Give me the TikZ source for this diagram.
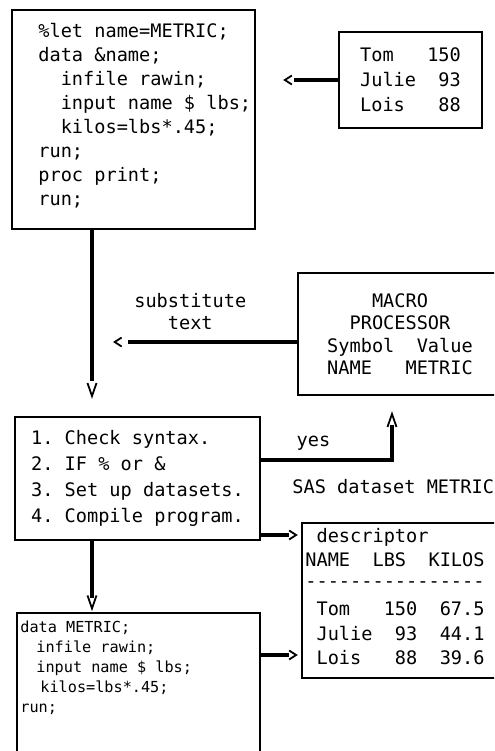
\documentclass[tikz,border=0pt]{standalone}
\usepackage{fontspec}
\setmonofont{DejaVu Sans Mono}
\usetikzlibrary{arrows.meta,decorations.markings}
\newcommand\sasind{\hphantom{xx}}
\tikzset{
  box/.style={draw, line width=1.2pt, rectangle, inner sep=0pt},
  sas/.style={font=\ttfamily\fontsize{9.3}{12}\selectfont, inner sep=0pt},
  link/.style={line width=1.9pt},
  htip/.style 2 args={shorten >=#1+3.5pt+#2,
    postaction={decorate, decoration={markings, mark=at position -#1 with
      {\arrow{Straight Barb[length=3.5pt,width=4.5pt,line width=0.9pt]}}}}},
  vtip/.style 2 args={shorten >=#1+6.5pt+#2,
    postaction={decorate, decoration={markings, mark=at position -#1 with
      {\arrow{Straight Barb[length=6.5pt,width=4.5pt,line width=0.9pt]}}}}},
}
\begin{document}
\begin{tikzpicture}[x=0.5pt,y=-0.5pt]
\useasboundingbox (0,0) rectangle (494,751);
\clip (0,0) rectangle (494,751);
\coordinate (spine) at (92,0);

\node[box, minimum width=121.5pt, minimum height=109.5pt] (prog) at (133.5,119.5) {};
\node[sas, anchor=west, align=left] (progtext) at (38,116) {\%let name=METRIC;\\data \&name;\\\sasind infile rawin;\\\sasind input name \$ lbs;\\\sasind kilos=lbs*.45;\\run;\\proc print;\\run;};

\node[box, sas, align=left, minimum width=71.5pt, minimum height=48pt, font=\ttfamily\fontsize{9.3}{12.5}\selectfont] (raw) at (410.5,80) {Tom~~~150\\Julie~~93\\Lois~~~88};

\node[box, sas, align=center, minimum width=102pt, minimum height=61pt, font=\ttfamily\fontsize{9.3}{11.25}\selectfont] (macro) at (400,334) {MACRO\\PROCESSOR\\Symbol~~Value\\NAME~~~METRIC};

\node[box, sas, align=left, minimum width=122.5pt, minimum height=61.5pt, font=\ttfamily\fontsize{9.3}{13}\selectfont] (check) at (137.5,478.5) {1. Check syntax.\\2. IF \% or \&\\3. Set up datasets.\\4. Compile program.};

\node[sas, anchor=west] (tablename) at (292,487) {SAS dataset METRIC};
\node[box, minimum width=104pt, minimum height=77.5pt] (table) at (406,600.5) {};
\node[sas, anchor=west, align=left, font=\ttfamily\fontsize{9.3}{12.25}\selectfont] (tabletext) at (305,596.5) {~descriptor\\NAME~~LBS~~KILOS\\[-2pt]----------------\\[2pt]~Tom~~~150~~67.5\\~Julie~~93~~44.1\\~Lois~~~88~~39.6};

\node[box, minimum width=121.5pt, minimum height=78.5pt] (metric) at (138.5,691.5) {};
\node[sas, anchor=west, align=left, font=\ttfamily\fontsize{7.6}{10}\selectfont] (metrictext) at (20,667.5) {data METRIC;\\\hspace*{8pt}infile rawin;\\\hspace*{8pt}input name \$ lbs;\\\hspace*{10pt}kilos=lbs*.45;\\run;};

\coordinate (subst) at (macro.west |- 0,342);
\draw[link, htip={13.5pt}{2pt}] (raw.west) -- (raw.west -| prog.east);
\draw[link, htip={10.5pt}{4pt}] (subst) -- node[sas, above=5pt, pos=0.52, align=center, font=\ttfamily\fontsize{9.3}{11}\selectfont] {substitute\\text} (subst -| spine);
\draw[link, vtip={8.5pt}{2.5pt}] (prog.south -| spine) -- (check.north -| spine);
\draw[link, vtip={7.5pt}{0.3pt}] (check.east |- 0,460) -| node[sas, pos=0.2, above=4pt] {yes} (392,0 |- macro.south);
\draw[link, htip={1.5pt}{1pt}] (check.east |- 0,535) -- (table.west |- 0,535);
\draw[link, vtip={0.3pt}{0.3pt}] (check.south -| spine) -- (metric.north -| spine);
\draw[link, htip={1.5pt}{1pt}] (metric.east |- 0,655) -- (table.west |- 0,655);
\end{tikzpicture}
\end{document}
